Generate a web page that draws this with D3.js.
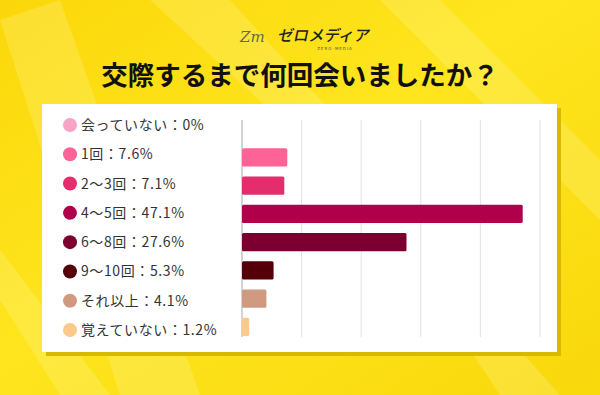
<!DOCTYPE html>
<html>
<head>
<meta charset="utf-8">
<script src="https://cdn.jsdelivr.net/npm/d3@7"></script>
<style>
  html, body { margin: 0; padding: 0; background: #fde10f; }
  #chart { width: 600px; height: 395px; }
  text { font-family: "Noto Sans CJK JP", "Noto Sans", sans-serif; }
</style>
</head>
<body>
<div id="chart"></div>
<script>
// データ
const categories = ['会っていない', '1回', '2〜3回', '4〜5回', '6〜8回', '9〜10回', 'それ以上', '覚えていない'];
const values = [0, 7.6, 7.1, 47.1, 27.6, 5.3, 4.1, 1.2];
const valueLabels = ['0%', '7.6%', '7.1%', '47.1%', '27.6%', '5.3%', '4.1%', '1.2%'];
const colors = ['#f9a3c6', '#fd6396', '#e32d6d', '#b1004b', '#7b0031', '#550008', '#d09a80', '#fdc98b'];
const gridTicks = [0, 10, 20, 30, 40, 50];

const title = '交際するまで何回会いましたか？';

const width = 600, height = 395;

const svg = d3.select('#chart')
  .append('svg')
  .attr('width', width)
  .attr('height', height);

// 背景
const defs = svg.append('defs');
const bg = defs.append('linearGradient')
  .attr('id', 'bg')
  .attr('x1', '0').attr('y1', '0').attr('x2', '1').attr('y2', '1');
bg.append('stop').attr('offset', '0%').attr('stop-color', '#fbd70a');
bg.append('stop').attr('offset', '45%').attr('stop-color', '#fee51e');
bg.append('stop').attr('offset', '100%').attr('stop-color', '#f9d80c');

svg.append('rect')
  .attr('width', width)
  .attr('height', height)
  .attr('fill', 'url(#bg)');

// 斜めの光の帯
const rays = [
  [[0, 20], [60, 0], [200, 395], [120, 395]],
  [[150, 0], [230, 0], [330, 110], [270, 110]],
  [[380, 0], [440, 0], [600, 160], [600, 220]],
  [[0, 250], [0, 300], [60, 395], [110, 395]],
  [[470, 350], [520, 350], [560, 395], [500, 395]]
];
svg.append('g')
  .selectAll('polygon')
  .data(rays)
  .enter()
  .append('polygon')
  .attr('points', (d) => d.map((p) => p.join(',')).join(' '))
  .attr('fill', '#fff6a0')
  .attr('opacity', 0.25);

// ロゴ
const logo = svg.append('g');
logo.append('text')
  .attr('x', 240)
  .attr('y', 42)
  .attr('fill', '#6b6650')
  .style('font-family', '"DejaVu Serif", serif')
  .style('font-style', 'italic')
  .style('font-size', '15px')
  .text('Zm');
logo.append('text')
  .attr('x', 277)
  .attr('y', 41)
  .attr('fill', '#222')
  .attr('transform', 'skewX(-12) translate(8.7,0)')
  .style('font-size', '15.5px')
  .style('font-weight', 500)
  .text('ゼロメディア');
logo.append('text')
  .attr('x', 335)
  .attr('y', 50)
  .attr('fill', '#555')
  .attr('text-anchor', 'middle')
  .style('font-family', '"DejaVu Sans", sans-serif')
  .style('font-size', '4px')
  .style('letter-spacing', '1px')
  .text('ZERO-MEDIA');

// タイトル
svg.append('text')
  .attr('x', 300)
  .attr('y', 85)
  .attr('text-anchor', 'middle')
  .attr('fill', '#111')
  .style('font-size', '26.5px')
  .style('font-weight', 700)
  .text(title);

// パネル
const panel = { x: 42, y: 104, w: 515, h: 248 };
svg.append('rect')
  .attr('x', panel.x + 4)
  .attr('y', panel.y + 4)
  .attr('width', panel.w)
  .attr('height', panel.h)
  .attr('fill', '#d7b900');
svg.append('rect')
  .attr('x', panel.x)
  .attr('y', panel.y)
  .attr('width', panel.w)
  .attr('height', panel.h)
  .attr('fill', '#ffffff');

// スケール
const x = d3.scaleLinear().domain([0, 50]).range([242, 540]);
const y = d3.scaleBand()
  .domain(categories)
  .range([115, 341])
  .paddingInner(0.35)
  .paddingOuter(0.175);
const yLabel = d3.scalePoint().domain(categories).range([125, 330]);

// グリッド
const gridTop = 120, gridBottom = 337;
svg.append('g')
  .selectAll('line')
  .data(gridTicks)
  .enter()
  .append('line')
  .attr('x1', (d) => x(d))
  .attr('x2', (d) => x(d))
  .attr('y1', gridTop)
  .attr('y2', gridBottom)
  .attr('stroke', (d) => (d === 0 ? '#a8a8a8' : '#e2e2e2'))
  .attr('stroke-width', 1);

// バー
svg.append('g')
  .selectAll('rect')
  .data(categories)
  .enter()
  .append('rect')
  .attr('x', x(0))
  .attr('y', (d) => y(d))
  .attr('width', (d, i) => x(values[i]) - x(0))
  .attr('height', y.bandwidth())
  .attr('rx', 1.5)
  .attr('fill', (d, i) => colors[i]);

// 凡例ラベル
const legend = svg.append('g');
const items = legend.selectAll('g')
  .data(categories)
  .enter()
  .append('g')
  .attr('transform', (d) => `translate(0, ${yLabel(d)})`);

items.append('circle')
  .attr('cx', 70)
  .attr('cy', 0)
  .attr('r', 7)
  .attr('fill', (d, i) => colors[i]);

items.append('text')
  .attr('x', 81)
  .attr('y', 0)
  .attr('dy', '0.36em')
  .attr('fill', '#333')
  .style('font-size', '14px')
  .style('letter-spacing', '0.6px')
  .text((d, i) => `${d}：${valueLabels[i]}`);
</script>
</body>
</html>
